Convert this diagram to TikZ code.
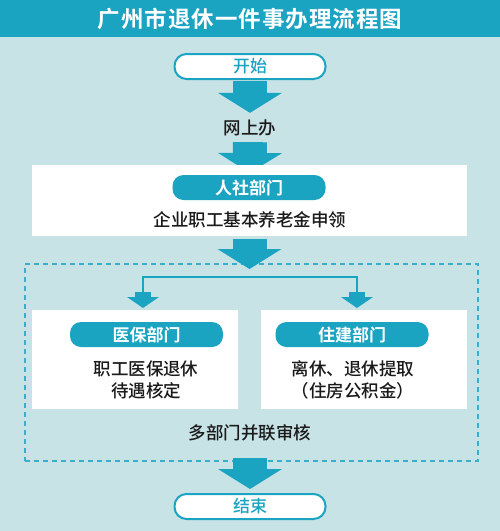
\documentclass[tikz,border=0pt]{standalone}
\usepackage{fontspec}
\setmainfont{Noto Sans CJK SC}[UprightFont=* Medium, BoldFont=* Bold]
\usetikzlibrary{arrows.meta, positioning, calc}
\definecolor{TealBlue}{HTML}{1BA3C2}
\definecolor{PaleCyan}{HTML}{C8E3E6}
\definecolor{DashBlue}{HTML}{3AAFCB}
\definecolor{InkBlack}{HTML}{1A1A1A}
\pgfdeclarelayer{back}
\pgfsetlayers{back,main}

\begin{document}
\begin{tikzpicture}[
  x=1pt, y=-1pt,
  every node/.style={inner sep=0pt, outer sep=0pt},
  banner/.style={rectangle, fill=TealBlue, minimum width=500pt, minimum height=37pt, text=white, font=\fontsize{22.5}{26}\selectfont\bfseries\addfontfeature{LetterSpace=4.5}},
  endpoint/.style={rectangle, rounded corners=12pt, draw=TealBlue, line width=2pt, fill=white, minimum width=151pt, minimum height=25pt, text=TealBlue, font=\fontsize{17}{20}\selectfont},
  dept/.style={rectangle, rounded corners=11pt, fill=TealBlue, minimum width=153pt, minimum height=25pt, text=white, font=\fontsize{17}{20}\selectfont\bfseries},
  panel/.style={rectangle, fill=white},
  label/.style={text=InkBlack, font=\fontsize{17.5}{22}\selectfont, align=center},
  bigarrow/.style={line width=34pt, TealBlue, -{Triangle[width=64pt, length=20pt, line width=0pt]}},
  smallarrow/.style={line width=16pt, TealBlue, -{Triangle[width=32pt, length=11pt, line width=0pt]}},
  branch/.style={line width=1.3pt, TealBlue}
]

\node[banner] (title) at (250,18.5) {广州市退休一件事办理流程图};
\node[endpoint] (start) at (250,66.5) {开始};
\node[label] (web) at (250,128) {网上办};

% social security
\node[panel, minimum width=435pt, minimum height=71pt] (rs) at (249.5,200.5) {};
\node[dept] (rsdept) at (249,187.5) {人社部门};
\node[label] (pension) at (250,220) {企业职工基本养老金申领};

% parallel review
\node[panel, minimum width=206pt, minimum height=99pt] (yb) at (135,359.5) {};
\node[dept] (ybdept) at (146.5,334.5) {医保部门};
\node[label] (ybtext) at (146,380) {职工医保退休\\待遇核定};
\node[panel, minimum width=206pt, minimum height=99pt] (zj) at (364,359.5) {};
\node[dept] (zjdept) at (352,334.5) {住建部门};
\node[label] (zjtext) at (353,380) {离休、退休提取\\（住房公积金）};
\node[label] (joint) at (250,433) {多部门并联审核};

\node[endpoint] (finish) at (250,506.5) {结束};

\coordinate (ybin) at (143,292);
\coordinate (zjin) at (357,292);

\begin{pgfonlayer}{back}
\fill[PaleCyan] (0,0) rectangle (500,531);
\node[draw=DashBlue, line width=1.5pt, dash pattern=on 5pt off 4pt, minimum width=453pt, minimum height=197pt] (review) at (251.5,362.5) {};

\draw[bigarrow, shorten <=2pt, shorten >=7pt] (start) -- (web);
\draw[bigarrow, shorten <=6pt, shorten >=-8pt] (web) -- (rs);
\draw[bigarrow, shorten <=3pt, shorten >=-5pt] (rs.south) -- (rs.south |- review.north);
\draw[bigarrow, shorten <=-3pt, shorten >=5pt] (finish.north |- review.south) -- (finish);

\draw[branch] (ybin) -- ++(0,-15) -| (zjin);
\draw[smallarrow, shorten >=2pt] (ybin) -- (ybin |- yb.north);
\draw[smallarrow, shorten >=2pt] (zjin) -- (zjin |- zj.north);
\end{pgfonlayer}

\end{tikzpicture}
\end{document}
